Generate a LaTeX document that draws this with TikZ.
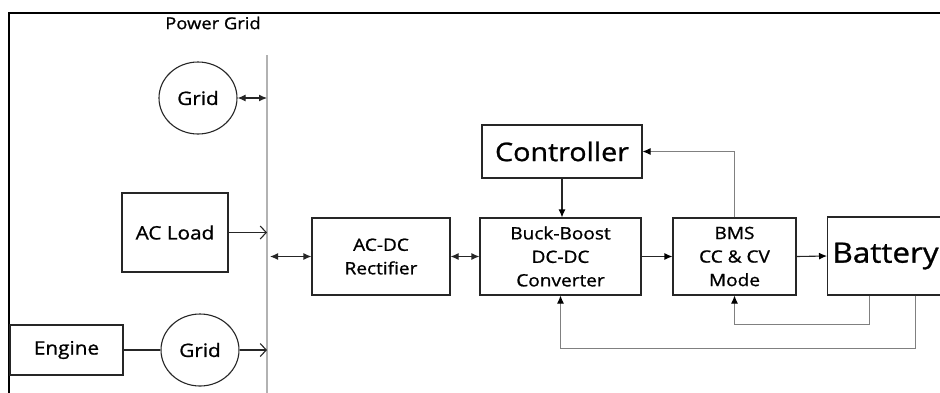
\documentclass[tikz,border=0pt]{standalone}
\usepackage{fontspec}
\setmainfont{Open Sans}[FakeStretch=1.12, FakeBold=1]
\usetikzlibrary{arrows.meta,shapes.geometric}
\begin{document}
\begin{tikzpicture}[x=1pt,y=-1pt,
  box/.style={draw=black!85, line width=1.1pt, rectangle, inner sep=0pt, align=center},
  circ/.style={draw=black!85, line width=1.1pt, ellipse, minimum width=78pt, minimum height=72pt, inner sep=0pt},
  fb/.style={draw=black!50, line width=0.9pt},
  con/.style={draw=black!85, line width=1.1pt},
  tip/.style={-{Latex[length=8pt,width=7pt,color=black]}},
  dtip/.style={{Latex[length=8pt,width=7pt]}-{Latex[length=8pt,width=7pt]}},
  otip/.style={-{Straight Barb[length=6pt,width=13pt]}},
  lbl/.style={font=\fontsize{18.5}{22}\selectfont},
  mid/.style={font=\fontsize{17}{23.5}\selectfont},
]
\useasboundingbox (0,0) rectangle (940,392);
\fill[white] (0,0) rectangle (940,392);
\draw[line width=1.6pt] (9,393) -- (9,13) -- (941,13);
\node[font=\fontsize{16.4}{18}\selectfont] (title) at (213,23) {Power Grid};
\coordinate (bustop) at (267,55);
\coordinate (busbot) at (267,393);
\draw[draw=black!30, line width=1.3pt] (bustop) -- (busbot);

\node[circ, lbl] (grid1) at (198,98) {Grid};
\node[box, lbl, minimum width=106pt, minimum height=79pt] (acload) at (175,232.5) {AC Load};
\node[box, lbl, minimum width=113pt, minimum height=50pt] (engine) at (66.5,350) {Engine};
\node[circ, lbl] (grid2) at (200,350) {Grid};
\node[box, mid, minimum width=138pt, minimum height=77pt] (rect) at (381,256.5) {AC-DC\\Rectifier};
\node[box, mid, minimum width=161pt, minimum height=77pt] (buck) at (560.5,256.5) {Buck-Boost\\DC-DC\\Converter};
\node[box, font=\fontsize{25.6}{28}\selectfont, minimum width=160pt, minimum height=53pt] (ctrl) at (562,151.5) {Controller};
\node[box, mid, minimum width=123pt, minimum height=77pt] (bms) at (734.5,256.5) {BMS\\CC \& CV\\Mode};
\node[box, font=\fontsize{28}{32}\selectfont, minimum height=78pt, anchor=west, text width=140pt, align=left, inner xsep=5pt] (batt) at (827,256) {Battery};

\coordinate (b1) at (267,98);
\coordinate (b3) at (270,256.5);

\draw[con,dtip] (grid1.east) -- (b1);
\draw[con,otip] (acload.east) -- (acload.east -| bustop);
\draw[con,dtip] (b3) -- (rect.west);
\draw[con] (engine.east) -- (grid2.west);
\draw[con,otip] (grid2.east) -- (grid2.east -| bustop);
\draw[con,dtip] (rect.east) -- (buck.west);
\draw[con,tip] (ctrl.south) -- (ctrl.south |- buck.north);
\draw[con,tip] (buck.east) -- (bms.west);
\draw[con,tip] (bms.east) -- (batt.west);
\draw[fb,tip] (bms.north) |- (ctrl.east);
\draw[fb,tip] ([xshift=42pt]batt.south west) -- ++(0,29) -| (bms.south);
\draw[fb,tip] ([xshift=88pt]batt.south west) -- ++(0,53) -| (buck.south);
\end{tikzpicture}
\end{document}
